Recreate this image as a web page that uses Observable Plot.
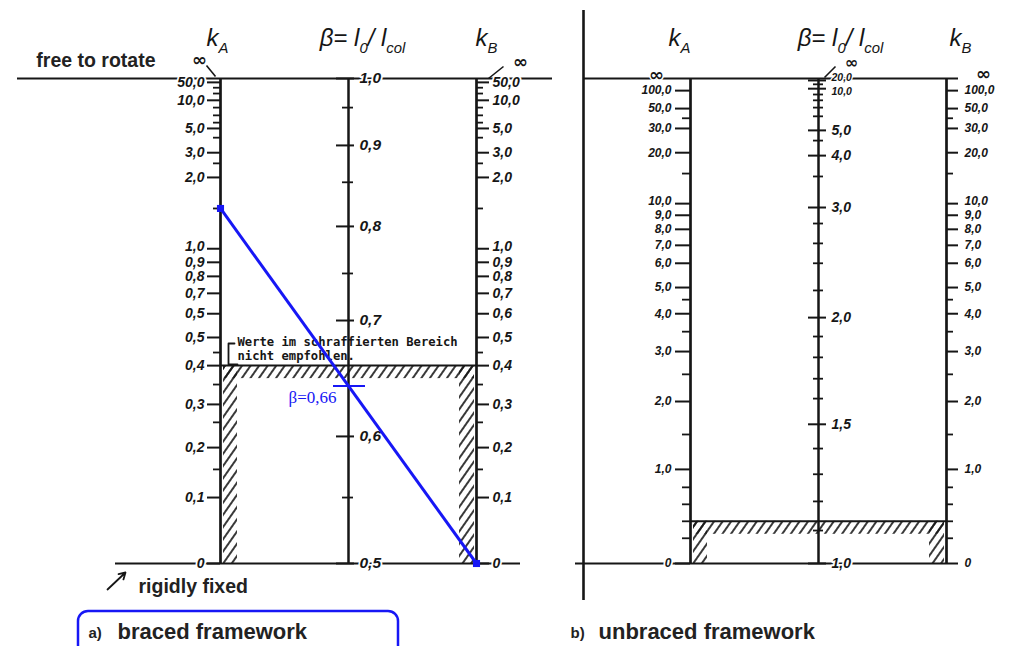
<!DOCTYPE html>
<html><head><meta charset="utf-8">
<script src="https://cdn.jsdelivr.net/npm/d3@7"></script>
<script src="https://cdn.jsdelivr.net/npm/@observablehq/plot@0.6"></script>
<style>
body{margin:0;background:#fff;}
#chart{width:1017px;height:646px;overflow:hidden;}
</style></head><body><div id="chart"></div>
<script>
// ================= DATA =================
// scale positions: 0 = bottom line (rigidly fixed), 1 = top line (free to rotate)

// a) braced framework — stiffness ratio k (kA and kB share one scale)
const kBracedMajor    = [50, 10, 5, 3, 2, 1, 0.9, 0.8, 0.7, 0.6, 0.5, 0.4, 0.3, 0.2, 0.1, 0];
const kBracedMajorPos = [0.992, 0.955, 0.897, 0.847, 0.796, 0.649, 0.621, 0.592, 0.557, 0.515, 0.466, 0.408, 0.328, 0.239, 0.136, 0];
const kBracedLabelsA  = ["50,0","10,0","5,0","3,0","2,0","1,0","0,9","0,8","0,7","0,5","0,5","0,4","0,3","0,2","0,1","0"];
const kBracedLabelsB  = ["50,0","10,0","5,0","3,0","2,0","1,0","0,9","0,8","0,7","0,6","0,5","0,4","0,3","0,2","0,1","0"];
const kBracedMinor    = [30, 20, 8, 7, 6, 4, 2.5, 1.5, 0.45, 0.35, 0.25, 0.15];
const kBracedMinorPos = [0.981, 0.969, 0.940, 0.924, 0.909, 0.878, 0.825, 0.732, 0.435, 0.369, 0.291, 0.194];

// a) braced framework — β = l0 / lcol
const betaBracedMajor    = [1.0, 0.9, 0.8, 0.7, 0.6, 0.5];
const betaBracedMajorPos = [1, 0.862, 0.695, 0.501, 0.262, 0];
const betaBracedLabels   = ["1,0","0,9","0,8","0,7","0,6","0,5"];
const betaBracedMinor    = [0.95, 0.85, 0.75, 0.55];
const betaBracedMinorPos = [0.940, 0.786, 0.598, 0.136];

// b) unbraced framework — stiffness ratio k (kA and kB share one scale)
const kUnbracedMajor    = [100, 50, 30, 20, 10, 9, 8, 7, 6, 5, 4, 3, 2, 1, 0];
const kUnbracedMajorPos = [0.975, 0.938, 0.897, 0.847, 0.742, 0.718, 0.689, 0.656, 0.619, 0.569, 0.515, 0.437, 0.334, 0.194, 0];
const kUnbracedLabels   = ["100,0","50,0","30,0","20,0","10,0","9,0","8,0","7,0","6,0","5,0","4,0","3,0","2,0","1,0","0"];
const kUnbracedMinor    = [40, 15, 4.5, 3.5, 2.5, 1.5, 0.8, 0.6, 0.4, 0.2];
const kUnbracedMinorPos = [0.918, 0.804, 0.544, 0.478, 0.390, 0.266, 0.157, 0.122, 0.087, 0.052];

// b) unbraced framework — β = l0 / lcol
const betaUnbracedMajor    = [20, 10, 5, 4, 3, 2, 1.5, 1];
const betaUnbracedMajorPos = [0.996, 0.979, 0.893, 0.841, 0.734, 0.507, 0.287, 0];
const betaUnbracedLabels   = ["20,0","10,0","5,0","4,0","3,0","2,0","1,5","1,0"];
const betaUnbracedMinor    = [15, 9, 8, 7, 6, 4.5, 3.5, 2.8, 2.6, 2.4, 2.2, 1.9, 1.8, 1.7, 1.6, 1.4, 1.3, 1.2, 1.1];
const betaUnbracedMinorPos = [0.988, 0.967, 0.955, 0.940, 0.922, 0.872, 0.798, 0.701, 0.660, 0.619, 0.563, 0.468, 0.425, 0.381, 0.340, 0.237, 0.184, 0.128, 0.068];

// worked example (braced): kA = 1.5, kB = 0  ->  β = 0,66
const exampleKA = 1.5, exampleKB = 0, exampleLabel = "β=0,66";
// values below this k are "not recommended" (hatched)
const limitK = 0.4;

// texts
const headerK_A = "k_A", headerBeta = "β= l_0/ l_col", headerK_B = "k_B";
const infinityLabel = "∞";
const freeLabel = "free to rotate", fixedLabel = "rigidly fixed";
const warningText = "Werte im schraffierten Bereich\nnicht empfohlen.";
const panelLetters = ["a)", "b)"], panelTitles = ["braced framework", "unbraced framework"];

// ================= LAYOUT / STYLE =================
const W = 1017, H = 646;
const U = 128, X0 = 220, YB = 563, YT = 78;   // axis spacing, first axis, bottom & top lines (px)
const PB = 470 / U;                             // offset of panel b in axis units
const px = v => v / U, pt = v => v / (YB - YT);
const X = p => (p - X0) / U, T = p => (YB - p) / (YB - YT); // annotation anchors only
const ink = "#161616", blue = "#1717f5";
const numFont = "Liberation Sans, Arial, sans-serif";

const tbl = (v, p, l) => v.map((d, i) => ({value: d, t: p[i], label: l ? l[i] : ""}));
function posOf(v, vals, pos) {
  const pr = vals.map((d, i) => [d, pos[i]]).sort((a, b) => a[0] - b[0]);
  for (let i = 0; i < pr.length; i++) {
    if (pr[i][0] === v) return pr[i][1];
    if (pr[i][0] > v && i > 0) { const [a, pa] = pr[i-1], [b, pb] = pr[i]; return pa + (pb - pa) * (v - a) / (b - a); }
  }
  return pr[pr.length - 1][1];
}
const kBAll = [...kBracedMajor, ...kBracedMinor], kBAllPos = [...kBracedMajorPos, ...kBracedMinorPos];
const kUAll = [...kUnbracedMajor, ...kUnbracedMinor], kUAllPos = [...kUnbracedMajorPos, ...kUnbracedMinorPos];

const labelStyle = (fs) => ({fontSize: fs, fontStyle: "italic", fontWeight: "bold", fontFamily: numFont,
  fill: ink, stroke: "white", strokeWidth: 3.5, paintOrder: "stroke"});

// labels; `nudge` = {value: [dy, fontSize?]} for crowded labels
function tickLabels(x, majors, anchor, gap, fs, nudge) {
  const plain = majors.filter(d => !(d.value in nudge));
  const crowded = majors.filter(d => d.value in nudge);
  return [
    Plot.text(plain, {x: x, y: "t", text: "label", textAnchor: anchor, dx: gap, ...labelStyle(fs)}),
    ...crowded.map(d => Plot.text([d], {x: x, y: "t", text: "label", textAnchor: anchor, dx: gap, dy: nudge[d.value][0],
      ...labelStyle(nudge[d.value][1] || fs), strokeWidth: 2.5}))
  ];
}
function sideAxis(x, majors, minors, side, o) {
  const {major = 13, minor = 7, gap = 16, fs = 16, nudge = {}} = o || {};
  return [
    Plot.ruleX([x], {y1: 0, y2: 1, stroke: ink, strokeWidth: 2.7}),
    Plot.ruleY(majors, {y: "t", x1: x, x2: x + side * px(major), stroke: ink, strokeWidth: 2}),
    Plot.ruleY(minors, {y: "t", x1: x, x2: x + side * px(minor), stroke: ink, strokeWidth: 1.8}),
    ...tickLabels(x, majors, side < 0 ? "end" : "start", side * gap, fs, nudge)
  ];
}
function crossAxis(x, majors, minors, o) {
  const {l = 12, r = 6, ml = 6, mr = 5, gap = 11, fs = 16, nudge = {}} = o || {};
  return [
    Plot.ruleX([x], {y1: 0, y2: 1, stroke: ink, strokeWidth: 2.5}),
    Plot.ruleY(majors, {y: "t", x1: x - px(l), x2: x + px(r), stroke: ink, strokeWidth: 2}),
    Plot.ruleY(minors, {y: "t", x1: x - px(ml), x2: x + px(mr), stroke: ink, strokeWidth: 1.8}),
    ...tickLabels(x, majors, "start", gap, fs, nudge)
  ];
}
const infinity = (x, dx, dy, fs = 18) => Plot.text([infinityLabel], {x: x, y: 1, dx, dy, fontSize: fs, fontWeight: "bold",
  fontFamily: "DejaVu Sans", fill: ink, stroke: "white", strokeWidth: 3, paintOrder: "stroke"});
const slash = (x, a, b, ta, tb) => Plot.link([0], {x1: x + px(a), y1: 1 + pt(ta), x2: x + px(b), y2: 1 + pt(tb), stroke: ink, strokeWidth: 1.6});
const header = (x, s, dx) => Plot.text([s], {x: x, y: 1, dx, dy: -40, fontSize: 24, fontStyle: "italic",
  fontFamily: numFont, fill: ink, textAnchor: "middle"});

// hatch for one panel
function hatch(x0, x2, tLim) {
  const band = pt(13), strip = px(17);
  return [
    Plot.rect([0], {x1: x0 + px(3), x2: x2 - px(2), y1: tLim - band, y2: tLim, fill: "url(#hatch)"}),
    Plot.rect([0], {x1: x0 + px(3), x2: x0 + strip, y1: 0, y2: tLim, fill: "url(#hatch)"}),
    Plot.rect([0], {x1: x2 - strip, x2: x2 - px(2), y1: 0, y2: tLim, fill: "url(#hatch)"}),
    Plot.ruleY([tLim], {x1: x0, x2: x2, stroke: ink, strokeWidth: 2})
  ];
}

// tables
const kaA = tbl(kBracedMajor, kBracedMajorPos, kBracedLabelsA);
const kaB = tbl(kBracedMajor, kBracedMajorPos, kBracedLabelsB);
const kaMin = tbl(kBracedMinor, kBracedMinorPos);
const baMaj = tbl(betaBracedMajor, betaBracedMajorPos, betaBracedLabels);
const baMin = tbl(betaBracedMinor, betaBracedMinorPos);
const kuMaj = tbl(kUnbracedMajor, kUnbracedMajorPos, kUnbracedLabels);
const kuMin = tbl(kUnbracedMinor, kUnbracedMinorPos);
const buMaj = tbl(betaUnbracedMajor, betaUnbracedMajorPos, betaUnbracedLabels);
const buMin = tbl(betaUnbracedMinor, betaUnbracedMinorPos);

// example
const tA = posOf(exampleKA, kBAll, kBAllPos), tB = posOf(exampleKB, kBAll, kBAllPos);
const tC = (tA + tB) / 2;  // crossing of the β axis (midway)

const svg = Plot.plot({
  width: W, height: H, margin: 0,
  x: {domain: [X(0), X(W)], range: [0, W], axis: null},
  y: {domain: [0, 1], range: [YB, YT], axis: null},
  marks: [
    // divider between the two nomograms
    Plot.ruleX([(2 + PB) / 2], {y1: T(600), y2: T(10), stroke: ink, strokeWidth: 2.6}),
    // top / bottom lines
    Plot.ruleY([1], {x1: X(17), x2: X(552), stroke: ink, strokeWidth: 1.8}),
    Plot.ruleY([1], {x1: X(583), x2: PB + 2, stroke: ink, strokeWidth: 1.8}),
    Plot.ruleY([0], {x1: X(115), x2: X(520), stroke: ink, strokeWidth: 1.8}),
    Plot.ruleY([0], {x1: X(575), x2: PB + 2, stroke: ink, strokeWidth: 1.8}),
    // hatched (not recommended) regions
    ...hatch(0, 2, posOf(limitK, kBAll, kBAllPos)),
    ...hatch(PB, PB + 2, posOf(limitK, kUAll, kUAllPos)),
    // panel a axes
    ...sideAxis(0, kaA, kaMin, -1, {gap: 16, fs: 14, nudge: {1: [-2]}}),
    ...crossAxis(1, baMaj, baMin, {fs: 15.5}),
    ...sideAxis(2, kaB, kaMin, +1, {gap: 16, fs: 14, nudge: {1: [-2]}}),
    // panel b axes
    ...sideAxis(PB, kuMaj, kuMin, -1, {gap: 19, major: 15, minor: 8, fs: 12, nudge: {10: [-2]}}),
    ...crossAxis(PB + 1, buMaj, buMin, {l: 10, r: 8, ml: 5, mr: 5, gap: 13, fs: 14, nudge: {20: [-3, 10.5], 10: [2.5, 10.5]}}),
    ...sideAxis(PB + 2, kuMaj, kuMin, +1, {gap: 18, major: 12, minor: 7, fs: 12, nudge: {10: [-2]}}),
    // infinity marks
    infinity(0, -21, -18), slash(0, -14, -5, 13, 2),
    infinity(2, 44, -16), slash(2, 12, 27, 0, 12),
    infinity(PB, -34, -3),
    infinity(PB + 1, 33, -16, 16), slash(PB + 1, 6, 17, 1, 12),
    Plot.ruleY([1], {x1: PB + 2, x2: PB + 2 + px(12), stroke: ink, strokeWidth: 2}),
    infinity(PB + 2, 37, -4),
    // headers
    header(0, headerK_A, -3), header(1, headerBeta, 14), header(2, headerK_B, 10),
    header(PB, headerK_A, -11), header(PB + 1, headerBeta, 22), header(PB + 2, headerK_B, 14),
    // warning note
    Plot.text([warningText], {x: 0, y: posOf(limitK, kBAll, kBAllPos), dx: 17, dy: -17, textAnchor: "start",
      fontFamily: "DejaVu Sans Mono", fontWeight: "bold", fontSize: 12.2, lineHeight: 1.15, fill: ink}),
    Plot.line([[X(234), T(343)], [X(228), T(343)], [X(228), T(364)], [X(237), T(364)]], {stroke: ink, strokeWidth: 1.8}),
    // worked example
    Plot.link([0], {x1: 0, y1: tA, x2: 2, y2: tB, stroke: blue, strokeWidth: 3}),
    Plot.dot([[0, tA], [2, tB]], {symbol: "square", r: 4, fill: blue}),
    Plot.ruleY([tC], {x1: 1 - px(15), x2: 1 + px(17), stroke: blue, strokeWidth: 2}),
    Plot.text([exampleLabel], {x: 1, y: tC, dx: -12, dy: 12, textAnchor: "end", fontFamily: "Liberation Serif, serif",
      fontSize: 17, fill: blue}),
    // end annotations
    Plot.text([freeLabel], {x: 0, y: 1, dx: -65, dy: -18, textAnchor: "end", fontFamily: numFont, fontSize: 19.5,
      fontWeight: "bold", fill: "#222"}),
    Plot.text([fixedLabel], {x: 0, y: 0, dx: -82, dy: 23, textAnchor: "start", fontFamily: numFont, fontSize: 19.5,
      fontWeight: "bold", fill: "#222"}),
    Plot.arrow([0], {x1: X(107), y1: T(589), x2: X(125), y2: T(572), stroke: ink, strokeWidth: 1.8, headLength: 6}),
    // panel captions
    Plot.rect([0], {x1: X(78), x2: X(398), y1: T(664), y2: T(611), rx: 10, fill: "none", stroke: blue, strokeWidth: 2.5}),
    Plot.text([panelLetters[0]], {x: 0, y: 0, dx: -132, dy: 70, textAnchor: "start", fontFamily: numFont, fontSize: 15, fontWeight: "bold", fill: "#222"}),
    Plot.text([panelTitles[0]], {x: 0, y: 0, dx: -103, dy: 68, textAnchor: "start", fontFamily: numFont, fontSize: 22, fontWeight: "bold", fill: "#222"}),
    Plot.text([panelLetters[1]], {x: PB, y: 0, dx: -120, dy: 70, textAnchor: "start", fontFamily: numFont, fontSize: 15, fontWeight: "bold", fill: "#222"}),
    Plot.text([panelTitles[1]], {x: PB, y: 0, dx: -92, dy: 68, textAnchor: "start", fontFamily: numFont, fontSize: 22, fontWeight: "bold", fill: "#222"})
  ]
});
document.getElementById("chart").appendChild(svg);

// hatch pattern
const defs = d3.select(svg).insert("defs", ":first-child");
const pat = defs.append("pattern").attr("id", "hatch").attr("patternUnits", "userSpaceOnUse")
  .attr("width", 7).attr("height", 7).attr("patternTransform", "rotate(35)");
pat.append("line").attr("x1", 2).attr("y1", 0).attr("x2", 2).attr("y2", 7).attr("stroke", ink).attr("stroke-width", 1.7);

// subscripts (k_A, l_0, l_col)
d3.select(svg).selectAll("text").each(function () {
  const s = this.textContent;
  if (!s.includes("_")) return;
  const fs = parseFloat(getComputedStyle(this).fontSize) || 16;
  const parts = s.split(/_(\w+)/);
  this.textContent = "";
  let shifted = false;
  parts.forEach((p, i) => {
    if (!p) return;
    const ts = document.createElementNS("http://www.w3.org/2000/svg", "tspan");
    ts.textContent = p;
    if (i % 2) { ts.setAttribute("font-size", fs * 0.62); ts.setAttribute("dy", fs * 0.3); shifted = true; }
    else if (shifted) { ts.setAttribute("dy", -fs * 0.3); shifted = false; }
    this.appendChild(ts);
  });
});
</script></body></html>
